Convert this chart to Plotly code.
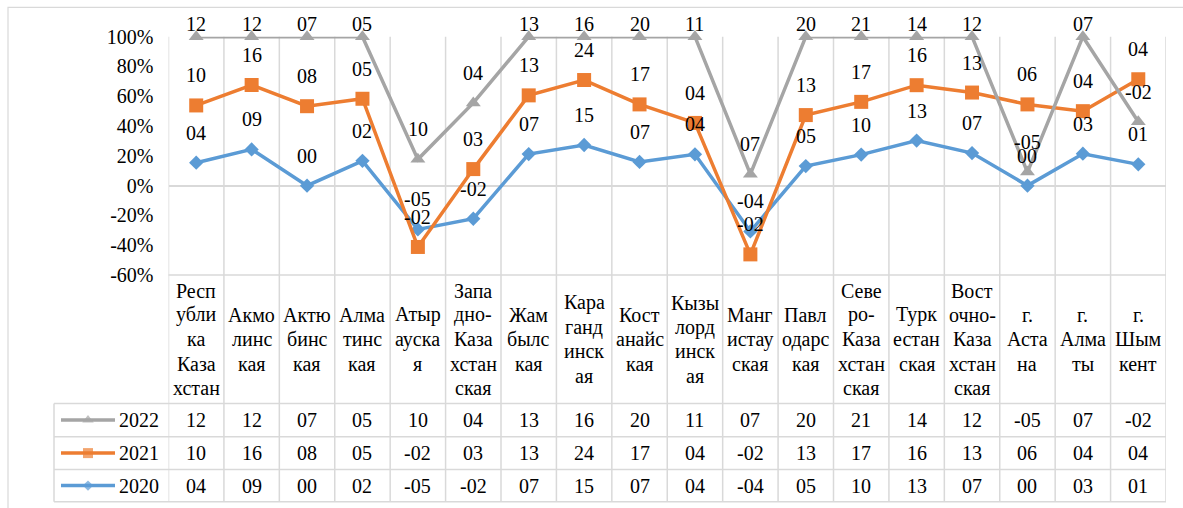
import plotly.graph_objects as go

# ---- data -------------------------------------------------------------
regions = [
    "Республика Казахстан", "Акмолинская", "Актюбинская", "Алматинская",
    "Атырауская", "Западно-Казахстанская", "Жамбылская", "Карагандинская",
    "Костанайская", "Кызылординская", "Мангистауская", "Павлодарская",
    "Северо-Казахстанская", "Туркестанская", "Восточно-Казахстанская",
    "г. Астана", "г. Алматы", "г. Шымкент",
]
# category names as they wrap inside the data-table header cells
region_lines = [
    ["Респ", "убли", "ка", "Каза", "хстан"],
    ["Акмо", "линс", "кая"],
    ["Актю", "бинс", "кая"],
    ["Алма", "тинс", "кая"],
    ["Атыр", "ауска", "я"],
    ["Запа", "дно-", "Каза", "хстан", "ская"],
    ["Жам", "былс", "кая"],
    ["Кара", "ганд", "инск", "ая"],
    ["Кост", "анайс", "кая"],
    ["Кызы", "лорд", "инск", "ая"],
    ["Манг", "истау", "ская"],
    ["Павл", "одарс", "кая"],
    ["Севе", "ро-", "Каза", "хстан", "ская"],
    ["Турк", "естан", "ская"],
    ["Вост", "очно-", "Каза", "хстан", "ская"],
    ["г.", "Аста", "на"],
    ["г.", "Алма", "ты"],
    ["г.", "Шым", "кент"],
]
years = ["2020", "2021", "2022"]
v2020 = [4, 9, 0, 2, -5, -2, 7, 15, 7, 4, -4, 5, 10, 13, 7, 0, 3, 1]
v2021 = [10, 16, 8, 5, -2, 3, 13, 24, 17, 4, -2, 13, 17, 16, 13, 6, 4, 4]
v2022 = [12, 12, 7, 5, 10, 4, 13, 16, 20, 11, 7, 20, 21, 14, 12, -5, 7, -2]
y_ticks = [-0.6, -0.4, -0.2, 0.0, 0.2, 0.4, 0.6, 0.8, 1.0]
y_ticktext = ["-60%", "-40%", "-20%", "0%", "20%", "40%", "60%", "80%", "100%"]

series = {"2020": v2020, "2021": v2021, "2022": v2022}
colors = {"2020": "#5B9BD5", "2021": "#ED7D31", "2022": "#A5A5A5"}
symbols = {"2020": "diamond", "2021": "square", "2022": "triangle-up"}
msize = {"2020": 11, "2021": 14, "2022": 13}
key_size = {"2020": 8, "2021": 10, "2022": 10}

# ---- 100% stacked line: each point is the running sum over |total| ----
n = len(regions)
abs_tot = [sum(abs(series[y][i]) for y in years) for i in range(n)]
stacked = {}
run = [0.0] * n
for y in years:
    run = [run[i] + series[y][i] for i in range(n)]
    stacked[y] = [run[i] / abs_tot[i] for i in range(n)]

# ---- geometry (pixels) ------------------------------------------------
W, H = 1183, 508
PLOT_L, PLOT_R = 168.5, 1166.0
Y_TOP, Y_BOT = 36.7, 275.0
Y_MIN, Y_MAX = -0.6, 1.0
HEAD_BOT = 403.5
ROW_LINES = [436.7, 469.5, 501.7]
LEG_L = 54.0
GRID = "#D9D9D9"
FONT = "Liberation Serif"
FS = 20
LINE_H = 24.3
TXT = dict(family=FONT, size=FS, color="#000000")


def px(x):
    return x / W


def py(y):
    return 1 - y / H


px_per_unit = (Y_BOT - Y_TOP) / (Y_MAX - Y_MIN)


def value_to_px(v):
    return Y_BOT - (v - Y_MIN) * px_per_unit


fig = go.Figure()

# series lines (2020 drawn first, 2022 on top)
for y in years:
    fig.add_trace(go.Scatter(
        x=list(range(n)), y=stacked[y], mode="lines+markers",
        line=dict(color=colors[y], width=3.5),
        marker=dict(symbol=symbols[y], size=msize[y], color=colors[y],
                    line=dict(width=0)),
        name=y, showlegend=False, cliponaxis=False,
        xaxis="x", yaxis="y",
    ))

annotations = []


def fmt(v):
    return f"{v:03d}" if v < 0 else f"{v:02d}"


# data labels: 30px above each marker, kept inside the chart's top edge
for y in years:
    for i in range(n):
        lab_px = max(value_to_px(stacked[y][i]) - 30, 24)
        annotations.append(dict(
            x=i, y=py(lab_px), xref="x", yref="paper",
            text=fmt(series[y][i]), showarrow=False,
            xanchor="center", yanchor="middle", font=TXT,
        ))

# table header (category names), one annotation per wrapped line
head_mid = (Y_BOT + HEAD_BOT) / 2
for i, lines in enumerate(region_lines):
    m = len(lines)
    for j, s in enumerate(lines):
        yy = head_mid + (j - (m - 1) / 2) * LINE_H
        annotations.append(dict(
            x=i, y=py(yy), xref="x", yref="paper", text=s, showarrow=False,
            xanchor="center", yanchor="middle", font=TXT,
        ))

# table rows: 2022, 2021, 2020
row_edges = [HEAD_BOT] + ROW_LINES
table_order = ["2022", "2021", "2020"]
for r, y in enumerate(table_order):
    yc = (row_edges[r] + row_edges[r + 1]) / 2
    for i in range(n):
        annotations.append(dict(
            x=i, y=py(yc), xref="x", yref="paper", text=fmt(series[y][i]),
            showarrow=False, xanchor="center", yanchor="middle", font=TXT,
        ))
    annotations.append(dict(
        x=px(117), y=py(yc), xref="paper", yref="paper", text=y,
        showarrow=False, xanchor="left", yanchor="middle", font=TXT,
    ))
    # legend key inside the row
    fig.add_trace(go.Scatter(
        x=[61, 88, 115], y=[yc, yc, yc], mode="lines+markers",
        line=dict(color=colors[y], width=3.5),
        marker=dict(symbol=symbols[y], size=[0, key_size[y], 0],
                    color=colors[y], line=dict(width=0)),
        showlegend=False, xaxis="x2", yaxis="y2", hoverinfo="skip",
    ))

shapes = []
line_style = dict(color=GRID, width=1.5)
# vertical category borders through chart and table
for k in range(n + 1):
    shapes.append(dict(type="line", xref="x", yref="paper",
                       x0=k - 0.5, x1=k - 0.5, y0=py(Y_TOP), y1=py(ROW_LINES[-1]),
                       line=line_style, layer="below"))
# top of the data table
shapes.append(dict(type="line", xref="paper", yref="paper",
                   x0=px(PLOT_L), x1=px(PLOT_R), y0=py(Y_BOT), y1=py(Y_BOT),
                   line=line_style, layer="below"))
# row borders spanning the legend column too
for yy in [HEAD_BOT] + ROW_LINES:
    shapes.append(dict(type="line", xref="paper", yref="paper",
                       x0=px(LEG_L), x1=px(PLOT_R), y0=py(yy), y1=py(yy),
                       line=line_style, layer="below"))
shapes.append(dict(type="line", xref="paper", yref="paper",
                   x0=px(LEG_L), x1=px(LEG_L), y0=py(HEAD_BOT), y1=py(ROW_LINES[-1]),
                   line=line_style, layer="below"))
# outer chart frame
shapes.append(dict(type="rect", xref="paper", yref="paper",
                   x0=px(8), x1=px(W + 10), y0=py(7.3), y1=py(H + 10),
                   line=dict(color=GRID, width=1.2), layer="below"))

fig.update_layout(
    width=W, height=H,
    margin=dict(l=0, r=0, t=0, b=0, pad=0),
    paper_bgcolor="white", plot_bgcolor="rgba(0,0,0,0)",
    showlegend=False,
    font=TXT,
    xaxis=dict(domain=[px(PLOT_L), px(PLOT_R)], range=[-0.5, n - 0.5],
               showgrid=False, zeroline=False, showticklabels=False,
               ticks="", fixedrange=True, automargin=False),
    yaxis=dict(domain=[py(Y_BOT), py(Y_TOP)], range=[Y_MIN, Y_MAX],
               tickvals=y_ticks, ticktext=y_ticktext, showgrid=False,
               zeroline=True, zerolinecolor=GRID, zerolinewidth=1.5,
               ticks="", ticklabelstandoff=14, tickfont=TXT,
               automargin=False),
    xaxis2=dict(domain=[0, 1], range=[0, W], visible=False, anchor="y2",
                automargin=False),
    yaxis2=dict(domain=[0, 1], range=[H, 0], visible=False, anchor="x2",
                automargin=False),
    annotations=annotations,
    shapes=shapes,
)

fig.write_html("out.html")
